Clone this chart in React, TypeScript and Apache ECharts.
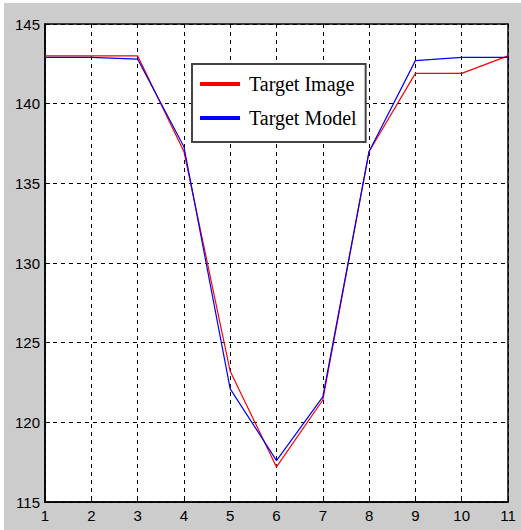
import React, { useEffect, useRef } from "react";
import * as echarts from "echarts";

const xValues = [1, 2, 3, 4, 5, 6, 7, 8, 9, 10, 11];
const targetImage = [143.0, 143.0, 143.0, 137.0, 123.2, 117.2, 121.4, 137.0, 141.9, 141.9, 143.0];
const targetModel = [142.9, 142.9, 142.8, 137.3, 122.1, 117.6, 121.6, 137.0, 142.7, 142.9, 142.9];
const seriesNames = ["Target Image", "Target Model"];

export default function App() {
  const ref = useRef<HTMLDivElement>(null);
  useEffect(() => {
    if (!ref.current) return;
    const chart = echarts.init(ref.current, undefined, { renderer: "svg" });
    const axisFont = {
      color: "#000",
      fontSize: 15,
      fontFamily: "'Liberation Sans Narrow', 'Liberation Sans', Arial, sans-serif",
    };
    chart.setOption({
      animation: false,
      backgroundColor: "#ffffff",
      graphic: [
        {
          type: "rect",
          z: -10,
          shape: { x: 4, y: 3, width: 521, height: 530 },
          style: { fill: "#cccccc" },
          silent: true,
        },
      ],
      grid: {
        left: 45,
        top: 24,
        right: 13,
        bottom: 28,
        show: true,
        backgroundColor: "#ffffff",
        borderColor: "#000",
        borderWidth: 1.5,
      },
      legend: {
        data: seriesNames,
        orient: "vertical",
        left: 192,
        top: 64,
        icon: "rect",
        itemWidth: 40,
        itemHeight: 4,
        itemGap: 12,
        padding: [9, 9, 13, 8],
        backgroundColor: "#ffffff",
        borderColor: "#444",
        borderWidth: 2,
        borderRadius: 0,
        textStyle: {
          color: "#000",
          fontSize: 20,
          lineHeight: 22,
          fontFamily: "'Liberation Serif', 'Times New Roman', serif",
          padding: [0, 0, 0, 4],
        },
      },
      xAxis: {
        type: "value",
        min: 1,
        max: 11,
        interval: 1,
        axisLine: { show: true, lineStyle: { color: "#000", width: 1.5 } },
        axisTick: { show: true, inside: true, length: 5, lineStyle: { color: "#000" } },
        axisLabel: { ...axisFont, margin: 6 },
        splitLine: { show: true, lineStyle: { color: "#000", type: [4, 4], width: 1 } },
      },
      yAxis: {
        type: "value",
        min: 115,
        max: 145,
        interval: 5,
        axisLine: { show: true, lineStyle: { color: "#000", width: 1.5 } },
        axisTick: { show: true, inside: true, length: 5, lineStyle: { color: "#000" } },
        axisLabel: { ...axisFont, margin: 5 },
        splitLine: { show: true, lineStyle: { color: "#000", type: [4, 4], width: 1 } },
      },
      series: [
        {
          name: seriesNames[0],
          type: "line",
          data: xValues.map((x, i) => [x, targetImage[i]]),
          showSymbol: false,
          symbol: "none",
          lineStyle: { color: "#ff0000", width: 1.2 },
          itemStyle: { color: "#ff0000" },
        },
        {
          name: seriesNames[1],
          type: "line",
          data: xValues.map((x, i) => [x, targetModel[i]]),
          showSymbol: false,
          symbol: "none",
          lineStyle: { color: "#0000ff", width: 1.2 },
          itemStyle: { color: "#0000ff" },
        },
      ],
    });
    return () => chart.dispose();
  }, []);
  return (
    <div
      ref={ref}
      style={{ position: "absolute", left: 0, top: 0, width: 521, height: 530 }}
    />
  );
}
